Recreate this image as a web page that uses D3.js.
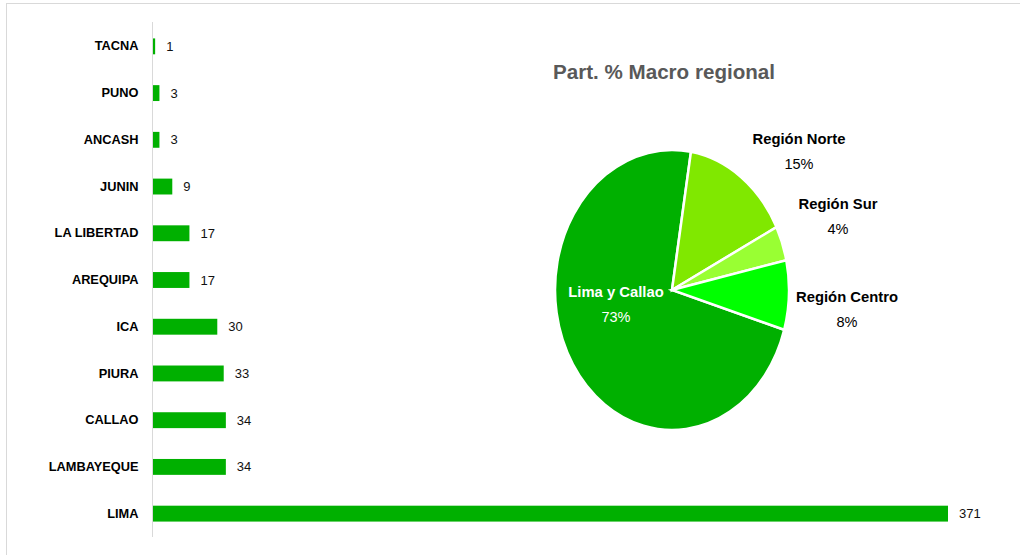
<!DOCTYPE html>
<html><head><meta charset="utf-8">
<script src="https://cdn.jsdelivr.net/npm/d3@7"></script>
<style>body{margin:0;background:#fff}svg{display:block}text{font-family:"Liberation Sans",Arial,sans-serif}</style>
</head><body><svg id="c" width="1020" height="555"></svg>
<script>
const categories = ["TACNA","PUNO","ANCASH","JUNIN","LA LIBERTAD","AREQUIPA","ICA","PIURA","CALLAO","LAMBAYEQUE","LIMA"];
const values = [1,3,3,9,17,17,30,33,34,34,371];
const pieLabels = ["Lima y Callao","Región Norte","Región Sur","Región Centro"];
const pieValues = [73,15,4,8];
const pieColors = ["#00b000","#80e800","#99ff33","#00ff00"];
const title = "Part. % Macro regional";

const svg = d3.select("#c");
svg.append("rect").attr("x",6.5).attr("y",3.5).attr("width",1030).attr("height",570)
  .attr("fill","none").attr("stroke","#d9d9d9");

// Bar chart
const y = d3.scaleBand().domain(categories).range([23,537]).paddingInner(0.66).paddingOuter(0.33);
const x = d3.scaleLinear().domain([0,371]).range([153,948]);
svg.append("g").selectAll("rect").data(values).join("rect")
  .attr("x",x(0)).attr("y",(d,i)=>y(categories[i]))
  .attr("width",d=>x(d)-x(0)).attr("height",y.bandwidth()).attr("fill","#00b000");
const yAxis = svg.append("g").attr("transform",`translate(${x(0)-0.5},0)`)
  .call(d3.axisLeft(y).tickSize(0).tickPadding(14));
yAxis.select(".domain").attr("stroke","#d9d9d9").attr("d","M0,22V537");
yAxis.selectAll("text").attr("font-size",12.8).attr("font-weight","bold").attr("fill","#000")
  .style("font-family","'Liberation Sans',Arial,sans-serif");
svg.append("g").selectAll("text").data(values).join("text")
  .attr("x",d=>x(d)+11).attr("y",(d,i)=>y(categories[i])+y.bandwidth()/2).attr("dy","0.35em")
  .attr("font-size",13).attr("fill","#111").text(d=>d);

// Title
svg.append("text").attr("x",553).attr("y",79).attr("font-size",20.6).attr("font-weight","bold")
  .attr("fill","#595959").text(title);

// Pie (elliptical)
const cx=672, cy=290, rx=117, ry=140;
const start = 106.5*Math.PI/180;
const pie = d3.pie().sort(null).value(d=>d).startAngle(start).endAngle(start+2*Math.PI);
const arcs = pie(pieValues);
const arc = d3.arc().innerRadius(0).outerRadius(1);
const pg = svg.append("g").attr("transform",`translate(${cx},${cy}) scale(${rx},${ry})`);
pg.selectAll("path").data(arcs).join("path").attr("d",arc)
  .attr("fill",(d,i)=>pieColors[i]).attr("stroke","#fff").attr("stroke-width",2.5)
  .attr("vector-effect","non-scaling-stroke");

const labelPos = [[616,292],[799,139],[838,204],[847,297]];
const lg = svg.append("g");
labelPos.forEach((p,i)=>{
  const col = i===0 ? "#fff" : "#000";
  lg.append("text").attr("x",p[0]).attr("y",p[1]).attr("text-anchor","middle").attr("dy","0.35em")
    .attr("font-size",14.8).attr("font-weight","bold").attr("fill",col).text(pieLabels[i]);
  lg.append("text").attr("x",p[0]).attr("y",p[1]+25).attr("text-anchor","middle").attr("dy","0.35em")
    .attr("font-size",14.5).attr("fill",col).text(pieValues[i]+"%");
});
</script></body></html>
